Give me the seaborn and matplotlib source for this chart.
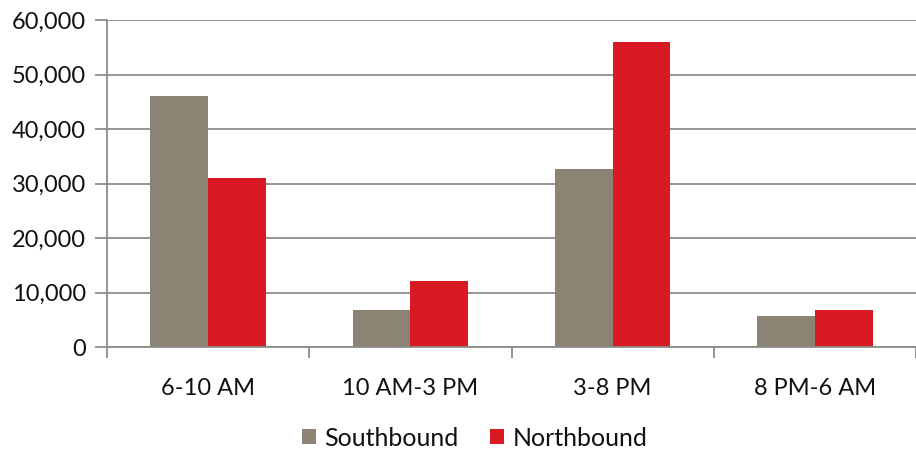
import matplotlib
matplotlib.use("Agg")
import matplotlib.pyplot as plt
from matplotlib.ticker import FuncFormatter, FixedLocator
import seaborn as sns
import pandas as pd

periods = ["6-10 AM", "10 AM-3 PM", "3-8 PM", "8 PM-6 AM"]
southbound = [46000, 6700, 32700, 5600]
northbound = [31000, 12100, 55900, 6700]
series_names = ["Southbound", "Northbound"]
series_colors = ["#8B8475", "#D91A23"]

df = pd.DataFrame({
    "period": periods * 2,
    "volume": southbound + northbound,
    "direction": [series_names[0]] * len(periods) + [series_names[1]] * len(periods),
})

sns.set_theme(style="white")
plt.rcParams["font.family"] = ["Lato", "DejaVu Sans"]

fig = plt.figure(figsize=(9.16, 4.51), dpi=100)
ax = fig.add_axes([107 / 916, 1 - 347 / 451, 1 - 107 / 916, 327 / 451])

sns.barplot(data=df, x="period", y="volume", hue="direction",
            palette=series_colors, width=0.57, saturation=1,
            edgecolor="none", linewidth=0, ax=ax, legend=True)

grid_c = "#8C8C8C"
ax.set_ylim(0, 60000)
ax.set_xlim(-0.5, 3.5)
ax.set_yticks(range(0, 60001, 10000))
ax.yaxis.set_major_formatter(FuncFormatter(lambda v, p: f"{int(v):,}"))
ax.grid(axis="y", color=grid_c, linewidth=1.3)
ax.set_axisbelow(True)

for s in ["top", "right"]:
    ax.spines[s].set_visible(False)
for s in ["left", "bottom"]:
    ax.spines[s].set_color(grid_c)
    ax.spines[s].set_linewidth(1.3)

ax.set_xlabel("")
ax.set_ylabel("")
ax.xaxis.set_minor_locator(FixedLocator([-0.5, 0.5, 1.5, 2.5, 3.5]))
ax.tick_params(axis="x", which="major", length=0, pad=22, labelsize=17, labelcolor="#111111")
ax.tick_params(axis="x", which="minor", length=8, width=1.3, color=grid_c, direction="out", bottom=True)
ax.tick_params(axis="y", length=9, width=1.3, color=grid_c, direction="out", left=True,
               pad=6, labelsize=17, labelcolor="#111111")

handles, labels = ax.get_legend_handles_labels()
ax.get_legend().remove()
fig.legend(handles, labels, loc="center", bbox_to_anchor=(474.5 / 916, 1 - 438 / 451),
           ncol=2, frameon=False, fontsize=18, handlelength=0.55, handleheight=0.55,
           handletextpad=0.35, columnspacing=1.25, labelcolor="#111111",
           borderpad=0, borderaxespad=0)

fig.savefig("out.png", dpi=100)
